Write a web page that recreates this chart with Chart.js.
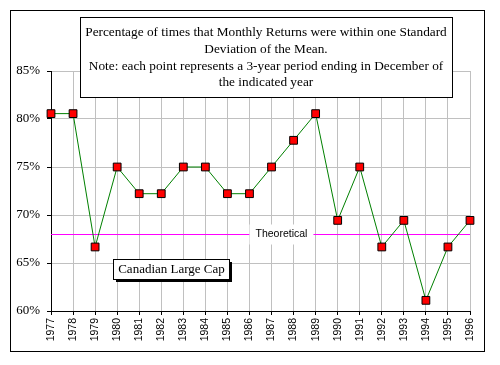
<!DOCTYPE html>
<html>
<head>
<meta charset="utf-8">
<script src="https://cdn.jsdelivr.net/npm/chart.js@4/dist/chart.umd.min.js"></script>
<style>
  body { margin: 0; background: #fff; }
  #wrap { width: 500px; height: 365px; }
</style>
</head>
<body>
<div id="wrap"><canvas id="chartWithin" width="500" height="365"></canvas></div>
<script>
// data (fractions of 36 months)
var years = ['1977', '1978', '1979', '1980', '1981', '1982', '1983', '1984', '1985', '1986',
             '1987', '1988', '1989', '1990', '1991', '1992', '1993', '1994', '1995', '1996'];
var withinOneSD = [80.56, 80.56, 66.67, 75, 72.22, 72.22, 75, 75, 72.22, 72.22,
                   75, 77.78, 80.56, 69.44, 75, 66.67, 69.44, 61.11, 66.67, 69.44];
var theoretical = 68;
var theoreticalLabel = 'Theoretical';
var titleLines = [
    'Percentage of times that Monthly Returns were within one Standard',
    'Deviation of the Mean.',
    'Note: each point represents a 3-year period ending in December of',
    'the indicated year'
];
var seriesName = 'Canadian Large Cap';

var serif = '"Times New Roman", "Liberation Serif", serif';
var sans = 'Arial, "Liberation Sans", sans-serif';

// frame, theoretical line and the text boxes
var decorations = {
    id: 'decorations',
    beforeDraw: function (chart) {
        var ctx = chart.ctx;
        ctx.save();
        ctx.fillStyle = '#fff';
        ctx.fillRect(0, 0, chart.width, chart.height);
        ctx.strokeStyle = '#000';
        ctx.lineWidth = 1;
        ctx.strokeRect(10.5, 10.5, 474, 341);
        ctx.restore();
    },
    beforeDatasetsDraw: function (chart) {
        var ctx = chart.ctx;
        var area = chart.chartArea;
        var x = chart.scales.x, y = chart.scales.y;
        var ty = Math.round(y.getPixelForValue(theoretical)) + 0.5;
        ctx.save();
        ctx.strokeStyle = '#ff00ff';
        ctx.lineWidth = 1;
        ctx.beginPath();
        ctx.moveTo(area.left, ty);
        ctx.lineTo(area.right, ty);
        ctx.stroke();

        // label sits on the line with a white background
        var cx = x.getPixelForValue(10.45);
        ctx.font = '10.5px ' + sans;
        var w = ctx.measureText(theoreticalLabel).width;
        ctx.fillStyle = '#fff';
        ctx.fillRect(cx - w / 2 - 6, ty - 10, w + 12, 20);
        ctx.fillStyle = '#000';
        ctx.textAlign = 'center';
        ctx.textBaseline = 'middle';
        ctx.fillText(theoreticalLabel, cx, ty);
        ctx.restore();
    },
    afterDraw: function (chart) {
        var ctx = chart.ctx;
        ctx.save();
        // title box
        ctx.fillStyle = '#fff';
        ctx.fillRect(80.5, 17.5, 372, 80);
        ctx.strokeStyle = '#000';
        ctx.lineWidth = 1;
        ctx.strokeRect(80.5, 17.5, 372, 80);
        ctx.fillStyle = '#000';
        ctx.font = '13.3px ' + serif;
        ctx.textAlign = 'center';
        ctx.textBaseline = 'middle';
        titleLines.forEach(function (line, i) {
            ctx.fillText(line, 266, 33 + i * 16.6);
        });

        // series name box with shadow
        ctx.fillStyle = '#000';
        ctx.fillRect(116, 262, 116, 20);
        ctx.fillStyle = '#fff';
        ctx.fillRect(113.5, 259.5, 116, 20);
        ctx.strokeRect(113.5, 259.5, 116, 20);
        ctx.fillStyle = '#000';
        ctx.font = '13px ' + serif;
        ctx.fillText(seriesName, 171.5, 270);
        ctx.restore();
    }
};

var config = {
    type: 'line',
    data: {
        labels: years,
        datasets: [{
            label: seriesName,
            data: withinOneSD,
            borderColor: '#008000',
            borderWidth: 1,
            tension: 0,
            fill: false,
            pointStyle: 'rect',
            pointRadius: 5.5,
            pointHoverRadius: 5.5,
            pointBackgroundColor: '#ff0000',
            pointBorderColor: '#000',
            pointBorderWidth: 1,
            clip: false
        }]
    },
    options: {
        responsive: false,
        animation: false,
        events: [],
        layout: { padding: { top: 71, right: 30, left: 0, bottom: 0 } },
        plugins: {
            legend: { display: false },
            tooltip: { enabled: false }
        },
        scales: {
            x: {
                offset: false,
                grid: { color: '#c0c0c0', tickColor: '#000', tickLength: 4 },
                border: { color: '#000' },
                ticks: {
                    autoSkip: false,
                    minRotation: 90,
                    maxRotation: 90,
                    padding: 3,
                    color: '#000',
                    font: { family: sans, size: 10.5 }
                },
                afterFit: function (scale) { scale.height = 54; }
            },
            y: {
                min: 60,
                max: 85,
                grid: { color: '#c0c0c0', tickColor: '#000', tickLength: 4 },
                border: { color: '#000' },
                ticks: {
                    stepSize: 5,
                    padding: 7,
                    color: '#000',
                    font: { family: serif, size: 13 },
                    callback: function (v) { return v + '%'; }
                },
                afterFit: function (scale) { scale.width = 51; }
            }
        }
    },
    plugins: [decorations]
};

new Chart(document.getElementById('chartWithin'), config);
</script>
</body>
</html>
